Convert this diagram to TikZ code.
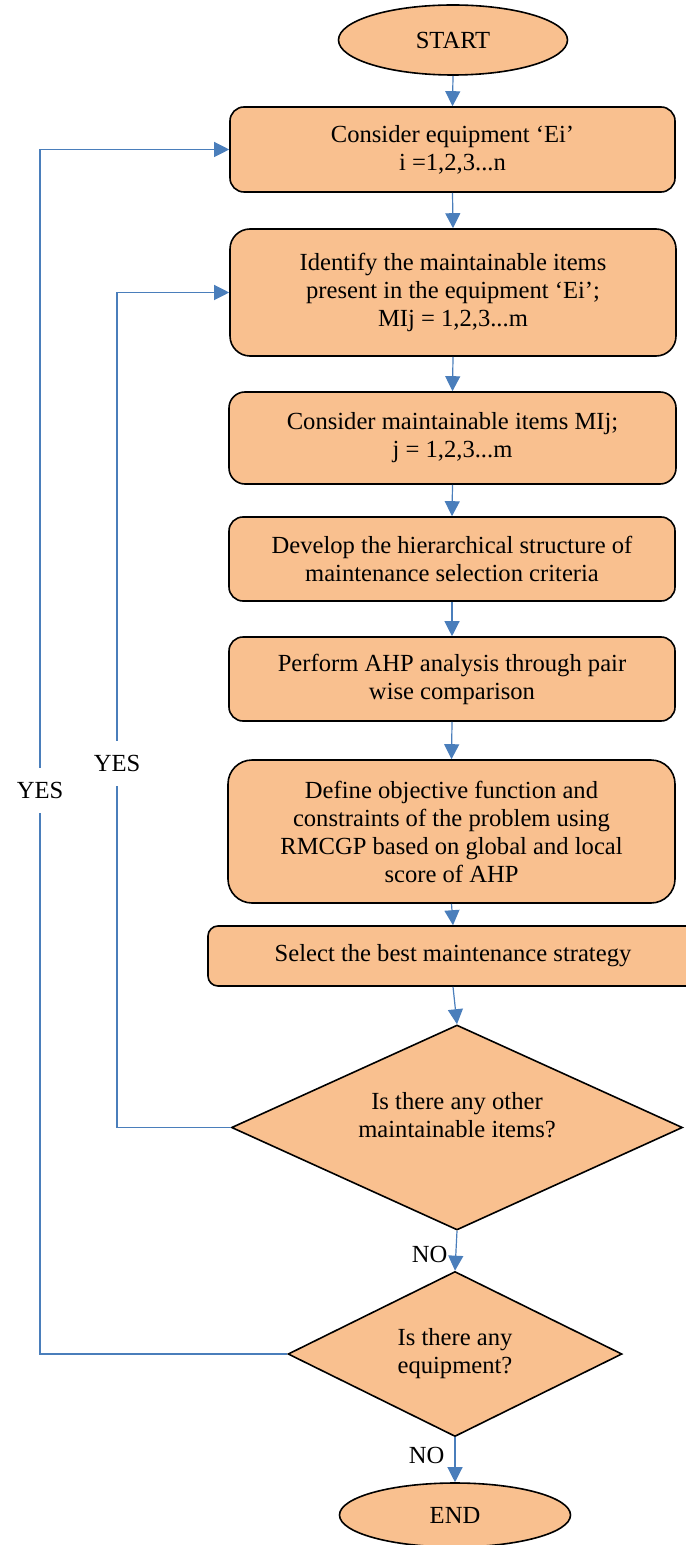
\documentclass[tikz,border=0pt]{standalone}
\usepackage{fontspec}
\setmainfont{Liberation Serif}
\usetikzlibrary{shapes.geometric,arrows.meta}
\definecolor{boxfill}{HTML}{F9C08F}
\definecolor{flowblue}{HTML}{4A7EBB}
\tikzset{
	process/.style={draw=black, line width=0.8pt, fill=boxfill, rounded corners=7pt, align=center, inner sep=0pt},
	terminal/.style={ellipse, draw=black, line width=0.8pt, fill=boxfill, inner sep=0pt},
	decision/.style={diamond, draw=black, line width=0.8pt, fill=boxfill, inner sep=0pt, align=center},
	flow/.style={draw=flowblue, line width=0.6pt, -{Triangle[length=7.5pt,width=7.5pt]}},
	yes/.style={fill=white, inner xsep=1pt, inner ysep=7pt},
}

\begin{document}
\begin{tikzpicture}[x=0.5pt,y=-0.5pt,font=\fontsize{12.3}{14}\selectfont]
	\useasboundingbox (0,0) rectangle (685,1545);
	\node[terminal, minimum width=114.5pt, minimum height=35pt] (start) at (453,40) {START};
	\node[process, minimum width=222.5pt, minimum height=42.5pt] (ei) at (452.5,149.5) {Consider equipment ‘Ei’\\i =1,2,3...n};
	\node[process, rounded corners=10pt, minimum width=223pt, minimum height=63.5pt] (ident) at (453,292.5) {Identify the maintainable items\\present in the equipment ‘Ei’;\\MIj = 1,2,3...m};
	\node[process, rounded corners=8pt, minimum width=223.5pt, minimum height=46pt] (mij) at (452.5,438) {Consider maintainable items MIj;\\j = 1,2,3...m};
	\node[process, minimum width=223pt, minimum height=42pt] (develop) at (452,559) {Develop the hierarchical structure of\\maintenance selection criteria};
	\node[process, minimum width=223pt, minimum height=42pt] (ahp) at (452,679) {Perform AHP analysis through pair\\wise comparison};
	\node[process, rounded corners=12pt, minimum width=223.5pt, minimum height=71.5pt] (define) at (451.5,831.5) {Define objective function and\\constraints of the problem using\\RMCGP based on global and local\\score of AHP};
	\node[process, rounded corners=5pt, minimum width=245pt, minimum height=30pt] (select) at (453,956) {Select the best maintenance strategy};
	\node[decision, minimum width=225.5pt, minimum height=102.5pt, label={[align=center, yshift=6pt]center:Is there any other\\maintainable items?}] (d1) at (457,1127.5) {};
	\node[decision, minimum width=167pt, minimum height=74.5pt] (d2) at (455,1354) {Is there any\\equipment?};
	\node[terminal, minimum width=115.5pt, minimum height=32pt] (stop) at (455,1515) {END};
	\coordinate (outer) at (40,0);
	\coordinate (inner) at (117,0);

	\draw[flow] (start.south) -- (ei.north);
	\draw[flow] (ei.south) -- (ident.north);
	\draw[flow] (ident.south) -- (mij.north);
	\draw[flow] (mij.south) -- (develop.north);
	\draw[flow] (develop.south) -- (ahp.north);
	\draw[flow] (ahp.south) -- (define.north);
	\draw[flow] (define.south) -- (select.north);
	\draw[flow] (select.south) -- (d1.north);
	\draw[flow] (d1.south) -- node[left, inner sep=4pt, yshift=-2pt]{NO} (d2.north);
	\draw[flow] (d2.south) -- node[left, inner sep=5pt, yshift=2pt]{NO} (stop.north);
	\draw[flow] (d1.west) -| node[yes, pos=0.718]{YES} (inner |- ident.west) -- (ident.west);
	\draw[flow] (d2.west) -| node[yes, pos=0.734]{YES} (outer |- ei.west) -- (ei.west);
\end{tikzpicture}
\end{document}
